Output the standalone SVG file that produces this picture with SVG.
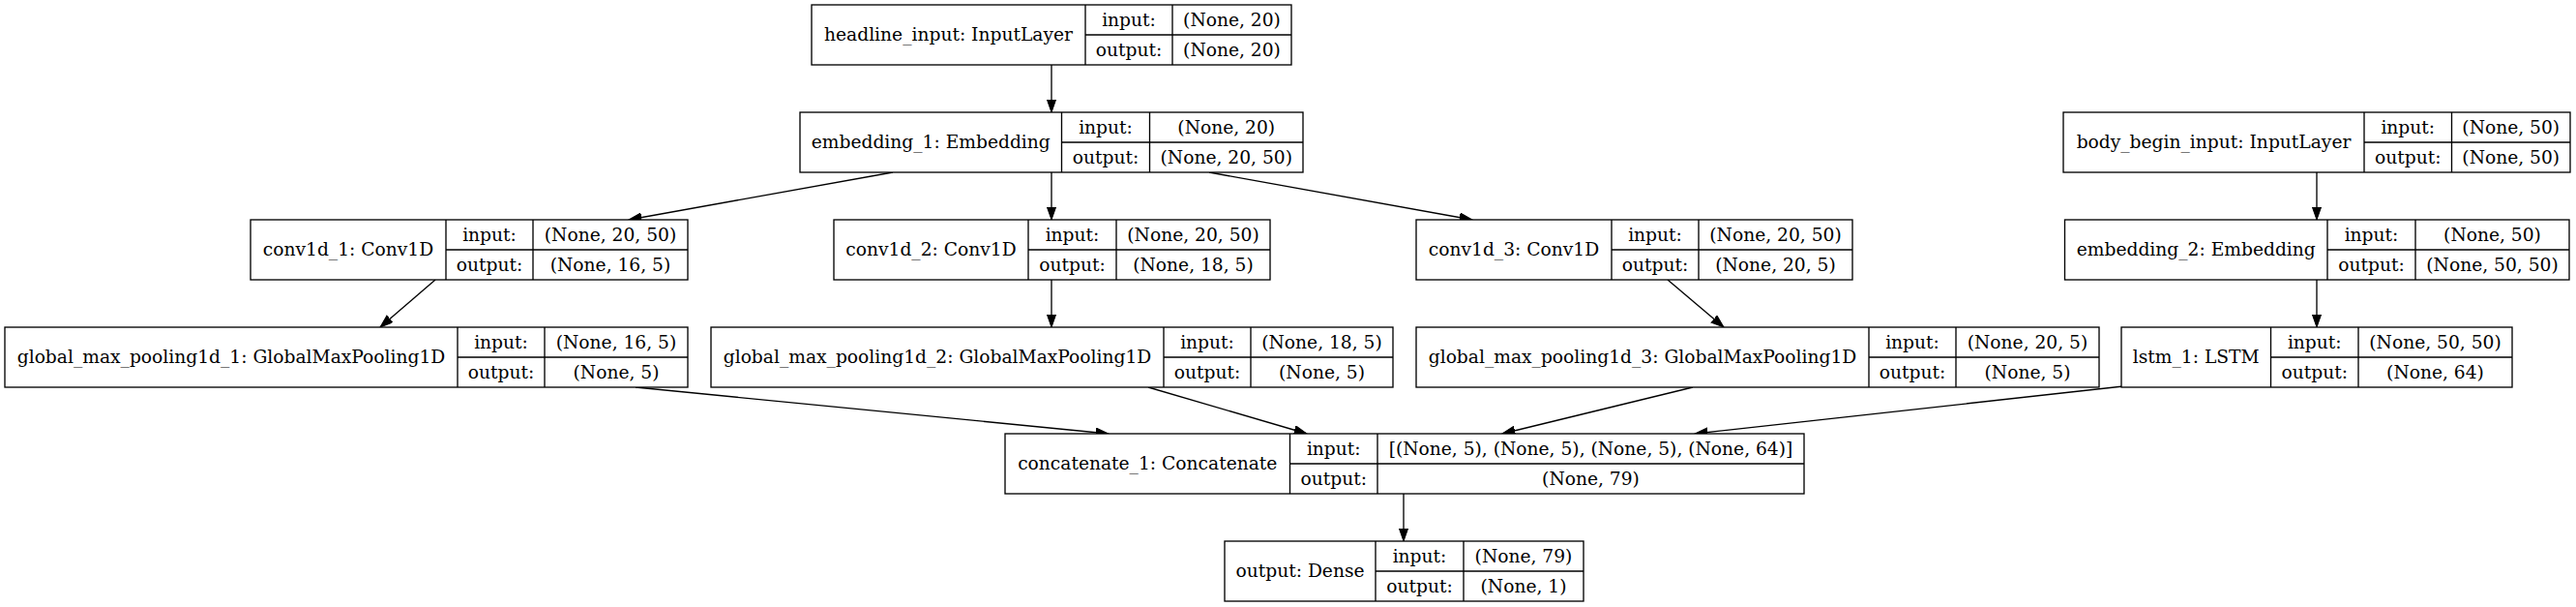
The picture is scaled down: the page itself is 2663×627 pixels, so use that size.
<svg xmlns="http://www.w3.org/2000/svg" width="2663" height="627" viewBox="0 0 2663 627">
<style>
.box{fill:#fff;stroke:#000;stroke-width:1.33}
.ln{stroke:#000;stroke-width:1.33;fill:none}
.t{font-family:"DejaVu Serif","Liberation Serif",serif;font-size:18.67px;fill:#000;text-anchor:middle}
.e{stroke:#000;stroke-width:1.33;fill:none;marker-end:url(#ah)}
</style>
<defs>
<marker id="ah" markerUnits="userSpaceOnUse" markerWidth="14" markerHeight="10" refX="13.3" refY="4.67" orient="auto">
<path d="M0,0 L13.3,4.67 L0,9.33 z" fill="#000" stroke="#000" stroke-width="1"/>
</marker>
</defs>
<rect width="2663" height="627" fill="#fff"/>
<g id="connectors">
<line class="e" x1="1087" y1="67" x2="1087" y2="116"/>
<line class="e" x1="923" y1="178" x2="650" y2="227"/>
<line class="e" x1="1087" y1="178" x2="1087" y2="227"/>
<line class="e" x1="1250" y1="178" x2="1522" y2="227"/>
<line class="e" x1="450" y1="289" x2="393" y2="338"/>
<line class="e" x1="1087" y1="289" x2="1087" y2="338"/>
<line class="e" x1="1724" y1="289" x2="1782" y2="338"/>
<line class="e" x1="2395" y1="178" x2="2395" y2="227"/>
<line class="e" x1="2395" y1="289" x2="2395" y2="338"/>
<line class="e" x1="657" y1="400" x2="1146" y2="448"/>
<line class="e" x1="1187" y1="400" x2="1351" y2="448"/>
<line class="e" x1="1750" y1="400" x2="1553" y2="448"/>
<line class="e" x1="2195" y1="399" x2="1752" y2="448"/>
<line class="e" x1="1451" y1="510" x2="1451" y2="559"/>
</g>
<g id="headline_input">
<rect class="box" x="839" y="5" width="496" height="62"/>
<path class="ln" d="M1122,5V67M1212,5V67M1122,36H1335"/>
<text class="t" x="980.5" y="42">headline_input: InputLayer</text>
<text class="t" x="1167" y="26.5">input:</text>
<text class="t" x="1167" y="57.5">output:</text>
<text class="t" x="1273.5" y="26.5">(None, 20)</text>
<text class="t" x="1273.5" y="57.5">(None, 20)</text>
</g>
<g id="embedding_1">
<rect class="box" x="827" y="116" width="520" height="62"/>
<path class="ln" d="M1097.5,116V178M1188.5,116V178M1097.5,147H1347"/>
<text class="t" x="962.25" y="153">embedding_1: Embedding</text>
<text class="t" x="1143" y="137.5">input:</text>
<text class="t" x="1143" y="168.5">output:</text>
<text class="t" x="1267.75" y="137.5">(None, 20)</text>
<text class="t" x="1267.75" y="168.5">(None, 20, 50)</text>
</g>
<g id="body_begin_input">
<rect class="box" x="2133" y="116" width="524" height="62"/>
<path class="ln" d="M2444,116V178M2534.5,116V178M2444,147H2657"/>
<text class="t" x="2288.5" y="153">body_begin_input: InputLayer</text>
<text class="t" x="2489.25" y="137.5">input:</text>
<text class="t" x="2489.25" y="168.5">output:</text>
<text class="t" x="2595.75" y="137.5">(None, 50)</text>
<text class="t" x="2595.75" y="168.5">(None, 50)</text>
</g>
<g id="conv1d_1">
<rect class="box" x="259" y="227" width="452" height="62"/>
<path class="ln" d="M461,227V289M551,227V289M461,258H711"/>
<text class="t" x="360" y="264">conv1d_1: Conv1D</text>
<text class="t" x="506" y="248.5">input:</text>
<text class="t" x="506" y="279.5">output:</text>
<text class="t" x="631" y="248.5">(None, 20, 50)</text>
<text class="t" x="631" y="279.5">(None, 16, 5)</text>
</g>
<g id="conv1d_2">
<rect class="box" x="862" y="227" width="451" height="62"/>
<path class="ln" d="M1063,227V289M1154,227V289M1063,258H1313"/>
<text class="t" x="962.5" y="264">conv1d_2: Conv1D</text>
<text class="t" x="1108.5" y="248.5">input:</text>
<text class="t" x="1108.5" y="279.5">output:</text>
<text class="t" x="1233.5" y="248.5">(None, 20, 50)</text>
<text class="t" x="1233.5" y="279.5">(None, 18, 5)</text>
</g>
<g id="conv1d_3">
<rect class="box" x="1464" y="227" width="451" height="62"/>
<path class="ln" d="M1666,227V289M1756,227V289M1666,258H1915"/>
<text class="t" x="1565" y="264">conv1d_3: Conv1D</text>
<text class="t" x="1711" y="248.5">input:</text>
<text class="t" x="1711" y="279.5">output:</text>
<text class="t" x="1835.5" y="248.5">(None, 20, 50)</text>
<text class="t" x="1835.5" y="279.5">(None, 20, 5)</text>
</g>
<g id="embedding_2">
<rect class="box" x="2134.5" y="227" width="521.5" height="62"/>
<path class="ln" d="M2406,227V289M2497,227V289M2406,258H2656"/>
<text class="t" x="2270.25" y="264">embedding_2: Embedding</text>
<text class="t" x="2451.5" y="248.5">input:</text>
<text class="t" x="2451.5" y="279.5">output:</text>
<text class="t" x="2576.5" y="248.5">(None, 50)</text>
<text class="t" x="2576.5" y="279.5">(None, 50, 50)</text>
</g>
<g id="global_max_pooling1d_1">
<rect class="box" x="5" y="338" width="706" height="62"/>
<path class="ln" d="M473,338V400M563,338V400M473,369H711"/>
<text class="t" x="239" y="375">global_max_pooling1d_1: GlobalMaxPooling1D</text>
<text class="t" x="518" y="359.5">input:</text>
<text class="t" x="518" y="390.5">output:</text>
<text class="t" x="637" y="359.5">(None, 16, 5)</text>
<text class="t" x="637" y="390.5">(None, 5)</text>
</g>
<g id="global_max_pooling1d_2">
<rect class="box" x="735" y="338" width="705" height="62"/>
<path class="ln" d="M1203,338V400M1293,338V400M1203,369H1440"/>
<text class="t" x="969" y="375">global_max_pooling1d_2: GlobalMaxPooling1D</text>
<text class="t" x="1248" y="359.5">input:</text>
<text class="t" x="1248" y="390.5">output:</text>
<text class="t" x="1366.5" y="359.5">(None, 18, 5)</text>
<text class="t" x="1366.5" y="390.5">(None, 5)</text>
</g>
<g id="global_max_pooling1d_3">
<rect class="box" x="1464" y="338" width="706" height="62"/>
<path class="ln" d="M1932,338V400M2022,338V400M1932,369H2170"/>
<text class="t" x="1698" y="375">global_max_pooling1d_3: GlobalMaxPooling1D</text>
<text class="t" x="1977" y="359.5">input:</text>
<text class="t" x="1977" y="390.5">output:</text>
<text class="t" x="2096" y="359.5">(None, 20, 5)</text>
<text class="t" x="2096" y="390.5">(None, 5)</text>
</g>
<g id="lstm_1">
<rect class="box" x="2193" y="338" width="404" height="62"/>
<path class="ln" d="M2347.5,338V400M2438,338V400M2347.5,369H2597"/>
<text class="t" x="2270.25" y="375">lstm_1: LSTM</text>
<text class="t" x="2392.75" y="359.5">input:</text>
<text class="t" x="2392.75" y="390.5">output:</text>
<text class="t" x="2517.5" y="359.5">(None, 50, 50)</text>
<text class="t" x="2517.5" y="390.5">(None, 64)</text>
</g>
<g id="concatenate_1">
<rect class="box" x="1039" y="448" width="826" height="62"/>
<path class="ln" d="M1333.5,448V510M1424,448V510M1333.5,479H1865"/>
<text class="t" x="1186.25" y="485">concatenate_1: Concatenate</text>
<text class="t" x="1378.75" y="469.5">input:</text>
<text class="t" x="1378.75" y="500.5">output:</text>
<text class="t" x="1644.5" y="469.5">[(None, 5), (None, 5), (None, 5), (None, 64)]</text>
<text class="t" x="1644.5" y="500.5">(None, 79)</text>
</g>
<g id="output">
<rect class="box" x="1266" y="559" width="371" height="62"/>
<path class="ln" d="M1422,559V621M1513,559V621M1422,590H1637"/>
<text class="t" x="1344" y="596">output: Dense</text>
<text class="t" x="1467.5" y="580.5">input:</text>
<text class="t" x="1467.5" y="611.5">output:</text>
<text class="t" x="1575" y="580.5">(None, 79)</text>
<text class="t" x="1575" y="611.5">(None, 1)</text>
</g>
</svg>
